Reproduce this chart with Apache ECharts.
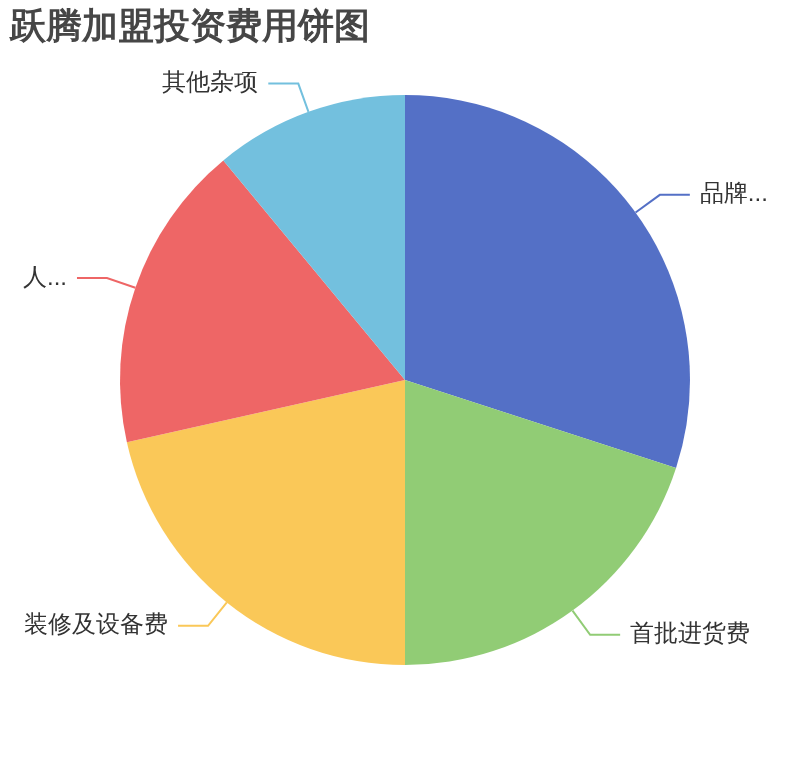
<!DOCTYPE html>
<html>
<head>
<meta charset="utf-8">
<script src="https://cdn.jsdelivr.net/npm/echarts@6/dist/echarts.min.js"></script>
<style>
html,body{margin:0;padding:0;background:#fff;}
#main{width:810px;height:760px;}
</style>
</head>
<body>
<div id="main"></div>
<script>
const titleText = '跃腾加盟投资费用饼图';
const categories = ['品牌加盟费', '首批进货费', '装修及设备费', '人员培训费', '其他杂项'];
const values = [30, 20, 21.5, 17.5, 11];
const colors = ['#5470c6', '#91cc75', '#fac858', '#ee6666', '#73c0de'];

const chart = echarts.init(document.getElementById('main'));
chart.setOption({
  backgroundColor: '#ffffff',
  color: colors,
  title: {
    text: titleText,
    left: 0,
    top: 0,
    padding: 10,
    textStyle: { fontSize: 36, fontWeight: 'bold', color: '#464646' }
  },
  series: [{
    type: 'pie',
    center: ['50%', '50%'],
    radius: [0, '75%'],
    startAngle: 90,
    clockwise: true,
    animation: false,
    itemStyle: { borderWidth: 0 },
    label: {
      show: true,
      position: 'outside',
      fontSize: 24,
      color: '#333333',
      bleedMargin: 20,
      distanceToLabelLine: 10,
      overflow: 'truncate'
    },
    labelLine: { show: true, length: 30, length2: 30, lineStyle: { width: 2 } },
    data: categories.map((n, i) => ({ name: n, value: values[i] }))
  }]
});
</script>
</body>
</html>
